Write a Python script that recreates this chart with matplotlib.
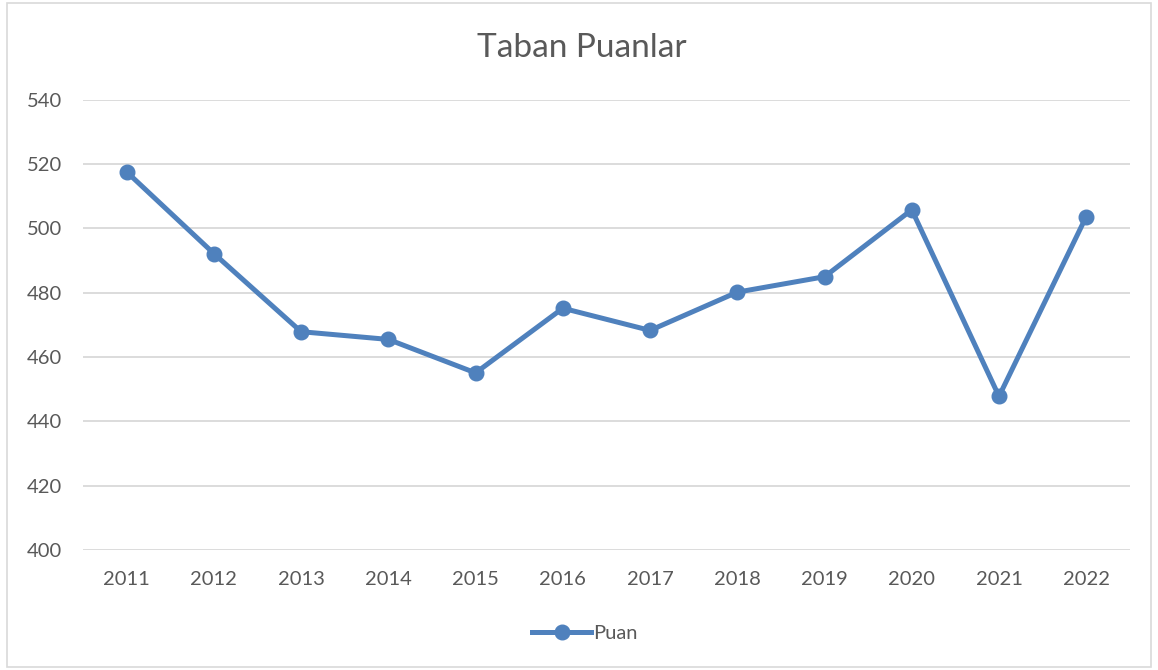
import matplotlib.pyplot as plt
from matplotlib.patches import Rectangle

YEARS = ["2011", "2012", "2013", "2014", "2015", "2016",
         "2017", "2018", "2019", "2020", "2021", "2022"]
PUAN = [517.6, 492.2, 467.9, 465.5, 455.1, 475.2,
        468.3, 480.2, 485.0, 505.8, 447.8, 503.7]
Y_TICKS = [400, 420, 440, 460, 480, 500, 520, 540]

LINE_COLOR = "#4f81bd"
TEXT_COLOR = "#595959"
GRID_COLOR = "#d9d9d9"

plt.rcParams["font.family"] = ["Lato", "DejaVu Sans"]


def main():
    fig = plt.figure(figsize=(11.58, 6.70), dpi=100)
    ax = fig.add_axes([0.0717, 0.179, 0.904, 0.672])

    x = list(range(len(YEARS)))
    ax.plot(x, PUAN, color=LINE_COLOR, lw=3.6, marker="o", ms=10.5,
            label="Puan", zorder=3)

    ax.set_xlim(-0.5, len(YEARS) - 0.5)
    ax.set_ylim(400, 540)
    ax.set_yticks(Y_TICKS)
    ax.set_xticks(x)
    ax.set_xticklabels(YEARS)
    ax.tick_params(length=0, labelsize=14.5, colors=TEXT_COLOR)
    ax.tick_params(axis="x", pad=15)
    ax.tick_params(axis="y", pad=15)
    ax.grid(axis="y", color=GRID_COLOR, lw=1.3)
    ax.set_axisbelow(True)
    for s in ax.spines.values():
        s.set_visible(False)

    fig.text(0.5025, 0.929, "Taban Puanlar", ha="center", va="center",
             fontsize=24, color=TEXT_COLOR)

    leg = fig.legend(loc="center", bbox_to_anchor=(0.505, 0.055), frameon=False,
                     fontsize=14.5, handlelength=2.9, handletextpad=0.1)
    for t in leg.get_texts():
        t.set_color(TEXT_COLOR)

    fig.patches.append(Rectangle((0.006, 0.004), 0.988, 0.992,
                                 transform=fig.transFigure, fill=False,
                                 edgecolor=GRID_COLOR, lw=1.2))

    fig.savefig("out.png", dpi=100)
    plt.close(fig)


if __name__ == "__main__":
    main()
